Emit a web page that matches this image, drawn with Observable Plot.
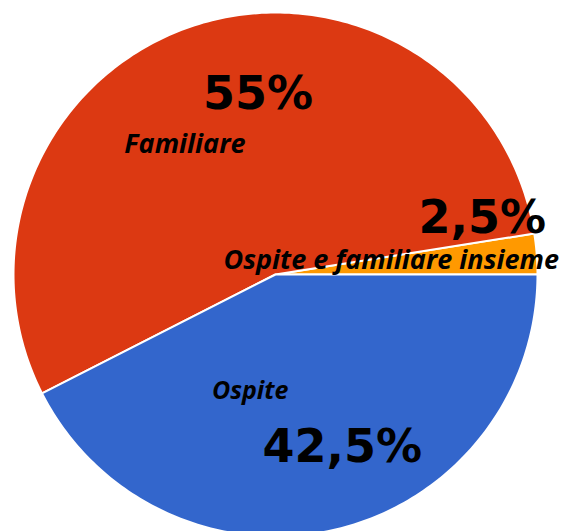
<!DOCTYPE html>
<html>
<head>
<meta charset="utf-8">
<script src="https://cdn.jsdelivr.net/npm/d3@7"></script>
<script src="https://cdn.jsdelivr.net/npm/@observablehq/plot@0.6"></script>
<style>
  html, body { margin: 0; padding: 0; background: #fff; }
  svg { display: block; }
</style>
</head>
<body>
<div id="chart"></div>
<script>
const categories = ["Ospite e familiare insieme", "Familiare", "Ospite"];
const values = [2.5, 55, 42.5];
const percentLabels = ["2,5%", "55%", "42,5%"];
const colors = ["#FF9900", "#DC3912", "#3366CC"];

// Build slices (counter-clockwise from 3 o'clock)
const total = d3.sum(values);
let acc = 0;
const slices = categories.map((cat, i) => {
  const a0 = acc / total * 360;
  acc += values[i];
  const a1 = acc / total * 360;
  return {cat, a0, a1, mid: (a0 + a1) / 2, value: values[i], pct: percentLabels[i]};
});

const rad = d => d * Math.PI / 180;
const polyPoints = [];
for (const s of slices) {
  polyPoints.push({cat: s.cat, x: 0, y: 0});
  const n = Math.max(2, Math.ceil(s.a1 - s.a0));
  for (let k = 0; k <= n; k++) {
    const a = s.a0 + (s.a1 - s.a0) * k / n;
    polyPoints.push({cat: s.cat, x: Math.cos(rad(a)), y: Math.sin(rad(a))});
  }
  polyPoints.push({cat: s.cat, x: 0, y: 0});
}

const labelPts = slices.map(s => ({
  cat: s.cat, pct: s.pct,
  x: 0.6 * Math.cos(rad(s.mid)),
  y: 0.6 * Math.sin(rad(s.mid))
}));

const W = 568, H = 531, cx = 275, cy = 274, R = 262;
const bigFont = {fontFamily: "DejaVu Sans", fontWeight: "bold", fontSize: 46, fill: "#000"};
const italic = size => ({fontFamily: "Open Sans", fontWeight: "bold", fontStyle: "italic", fontSize: size, fill: "#000"});
const only = c => d => d.cat === c;

const chart = Plot.plot({
  width: W, height: H,
  margin: 0,
  x: {domain: [-cx / R, (W - cx) / R], axis: null},
  y: {domain: [-(H - cy) / R, cy / R], axis: null},
  color: {domain: categories, range: colors},
  style: {background: "#fff"},
  marks: [
    Plot.line(polyPoints, {x: "x", y: "y", z: "cat", fill: "cat", stroke: "#fff", strokeWidth: 2, curve: "linear"}),
    Plot.text(labelPts, {filter: only("Familiare"), x: "x", y: "y", text: "pct", dx: 31, dy: -31, ...bigFont}),
    Plot.text(labelPts, {filter: only("Familiare"), x: "x", y: "y", text: "cat", dx: -42, dy: 19, ...italic(27)}),
    Plot.text(labelPts, {filter: only("Ospite"), x: "x", y: "y", text: "pct", dx: 30, dy: 20, ...bigFont}),
    Plot.text(labelPts, {filter: only("Ospite"), x: "x", y: "y", text: "cat", dx: -62, dy: -36, ...italic(25)}),
    Plot.text(labelPts, {filter: only("Ospite e familiare insieme"), x: "x", y: "y", text: "pct", dx: 50, dy: -44, ...bigFont}),
    Plot.text(labelPts, {filter: only("Ospite e familiare insieme"), x: "x", y: "y", text: "cat", dx: -41, dy: -2, ...italic(27)})
  ]
});
document.getElementById("chart").appendChild(chart);
</script>
</body>
</html>
